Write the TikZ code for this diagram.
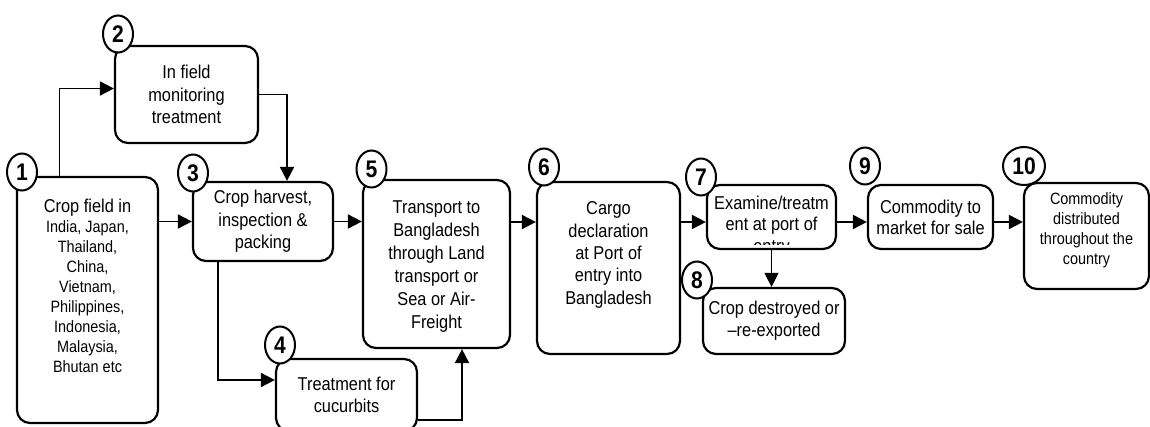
\documentclass[tikz,border=0pt]{standalone}
\usepackage{fontspec}
\setmainfont{Liberation Sans}[FakeStretch=0.88]
\usetikzlibrary{arrows.meta, shapes.geometric}
\newcommand\txtfont{\fontsize{9.3}{11.2}\selectfont}
\newcommand\smallfont{\fontsize{8.2}{10}\selectfont}
\tikzset{
  box/.style={draw, rounded corners=6.5pt, line width=1.1pt, align=center, inner sep=1pt, font=\txtfont},
  num/.style={draw, ellipse, fill=white, line width=1pt, minimum width=15pt, minimum height=18.5pt, inner sep=0pt, font=\bfseries\fontsize{12}{12}\selectfont},
  flow/.style={-{Triangle[length=7pt,width=7pt]}, line width=0.9pt}
}
\begin{document}
\begin{tikzpicture}[x=0.5pt, y=-0.5pt]
\useasboundingbox (0,0) rectangle (1150,427);
% Hauptlinie der Pfeile
\coordinate (mainline) at (0,222);
% Kaesten
\node[box, minimum width=70.5pt, minimum height=123pt,
  label={[font=\smallfont, align=center, yshift=7pt]center:{{\txtfont Crop field in}\\India, Japan,\\Thailand,\\China,\\Vietnam,\\Philippines,\\Indonesia,\\Malaysia,\\Bhutan etc}}] (b1) at (87.5,300) {};
\node[box, minimum width=71.5pt, minimum height=48.5pt] (b2) at (186.5,94.5) {In field\\monitoring\\treatment};
\node[box, minimum width=70pt, minimum height=39.5pt] (b3) at (263,221.5) {Crop harvest,\\inspection \&\\packing};
\node[box, minimum width=70.5pt, minimum height=36pt] (b4) at (346.5,395) {Treatment for\\cucurbits};
\node[box, minimum width=73.5pt, minimum height=84pt, font=\fontsize{9.3}{11.5}\selectfont,
  label={[font=\fontsize{9.3}{11.5}\selectfont, align=center, yshift=-1.5pt]center:{Transport to\\Bangladesh\\through Land\\transport or\\Sea or Air-\\Freight}}] (b5) at (436.5,264) {};
\node[box, minimum width=71.5pt, minimum height=86pt,
  label={[font=\txtfont, align=center, yshift=6.5pt]center:{Cargo\\declaration\\at Port of\\entry into\\Bangladesh}}] (b6) at (608.5,268) {};
% Text in Kasten 7 unten abgeschnitten
\node[box, minimum width=64.5pt, minimum height=32pt,
  path picture={
    \clip (path picture bounding box.north west) rectangle ([yshift=2pt]path picture bounding box.south east);
    \node[font=\fontsize{9.3}{10.8}\selectfont, align=center] at ([yshift=-4.5pt]path picture bounding box.center) {Examine/treatm\\ent at port of\\entry};}] (b7) at (771.5,217) {};
\node[box, minimum width=71pt, minimum height=33pt, font=\fontsize{9.3}{11}\selectfont] (b8) at (774,321) {Crop destroyed or\\–re-exported};
\node[box, minimum width=62.5pt, minimum height=32pt, font=\fontsize{9.3}{10.5}\selectfont] (b9) at (930.5,217) {Commodity to\\market for sale};
\node[box, minimum width=62.5pt, minimum height=53pt,
  label={[font=\smallfont, align=center, yshift=3pt]center:{Commodity\\distributed\\throughout the\\country}}] (b10) at (1086.5,236) {};
% Pfeile
\draw[flow] ([xshift=-14pt]b1.north) |- ([yshift=3pt]b2.west);
\draw[flow] (b1.east |- b3.west) -- (b3.west);
\draw[flow] (b2.east) -| ([xshift=12pt]b3.north);
\draw[flow] ([xshift=-22.5pt]b3.south) |- ([yshift=7.5pt]b4.west);
\draw[flow] (b3.east) -- (b5.west |- b3.east);
\draw[flow] ([yshift=-12.5pt]b4.east) -| ([xshift=12.75pt]b5.south);
\draw[flow] (b5.east |- mainline) -- (b6.west |- mainline);
\draw[flow] (b6.east |- mainline) -- (b7.west |- mainline);
\draw[flow, line width=0.6pt] (b7.south) -- (b8.north -| b7.south);
\draw[flow] (b7.east |- mainline) -- (b9.west |- mainline);
\draw[flow] (b9.east |- mainline) -- (b10.west |- mainline);
% Nummern
\node[num] (n1) at (22,172) {1};
\node[num] (n2) at (118,34) {2};
\node[num] (n3) at (193,173) {3};
\node[num] (n4) at (280,345) {4};
\node[num] (n5) at (371.5,169) {5};
\node[num] (n6) at (544,167) {6};
\node[num] (n7) at (701,177) {7};
\node[num] (n8) at (697,280) {8};
\node[num] (n9) at (865,166) {9};
\node[num, minimum width=21pt, minimum height=19pt] (n10) at (1024,166) {10};
\end{tikzpicture}
\end{document}
